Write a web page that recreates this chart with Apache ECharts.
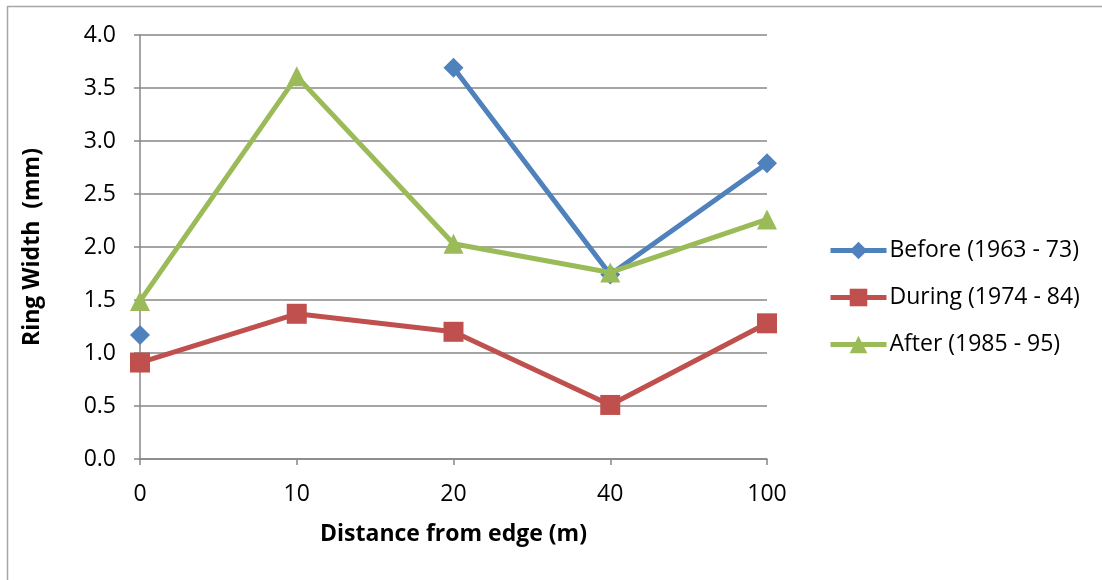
<!DOCTYPE html>
<html>
<head>
<meta charset="utf-8">
<script src="https://cdn.jsdelivr.net/npm/echarts@6/dist/echarts.min.js"></script>
<style>
  html, body { margin: 0; padding: 0; background: #fff; }
  #chart { width: 1102px; height: 580px; }
</style>
</head>
<body>
<div id="chart"></div>
<script>
  // distances from edge (m)
  var distances = ['0', '10', '20', '40', '100']
  // ring width (mm), null where no value
  var before = [1.17, null, 3.69, 1.74, 2.79]
  var during = [0.91, 1.37, 1.20, 0.51, 1.28]
  var after = [1.49, 3.61, 2.03, 1.76, 2.26]

  var font = '"Open Sans", sans-serif'
  var chart = echarts.init(document.getElementById('chart'))

  chart.setOption({
    backgroundColor: '#fff',
    animation: false,
    textStyle: { fontFamily: font },
    graphic: [{
      type: 'rect',
      shape: { x: 7.5, y: 6.5, width: 1200, height: 700 },
      style: { fill: 'none', stroke: '#a6a6a6', lineWidth: 1.5 },
      silent: true
    }],
    grid: { left: 140, right: 335, top: 35, bottom: 121 },
    legend: {
      orient: 'vertical',
      left: 823,
      top: 234,
      itemWidth: 56,
      itemHeight: 22,
      itemGap: 24,
      lineStyle: { width: 5 },
      textStyle: { fontSize: 23, color: '#000', fontFamily: font, padding: [0, 0, 0, -2] },
      data: ['Before (1963 - 73)', 'During (1974 - 84)', 'After (1985 - 95)']
    },
    xAxis: {
      type: 'category',
      boundaryGap: false,
      data: distances,
      name: 'Distance from edge (m)',
      nameLocation: 'middle',
      nameGap: 64,
      nameTextStyle: { fontSize: 23, fontWeight: 'bold', color: '#000', fontFamily: font },
      axisLine: { lineStyle: { color: '#878787', width: 1.5 } },
      axisTick: { show: true, alignWithLabel: true, length: 6, lineStyle: { color: '#878787', width: 1.5 } },
      axisLabel: { fontSize: 23, color: '#000', margin: 24, fontFamily: font },
      splitLine: { show: false }
    },
    yAxis: {
      type: 'value',
      min: 0,
      max: 4,
      interval: 0.5,
      name: 'Ring Width  (mm)',
      nameLocation: 'middle',
      nameGap: 96,
      nameRotate: 90,
      nameTextStyle: { fontSize: 23, fontWeight: 'bold', color: '#000', fontFamily: font },
      axisLine: { show: true, lineStyle: { color: '#878787', width: 1.5 } },
      axisTick: { show: true, length: 6, inside: false, lineStyle: { color: '#878787', width: 1.5 } },
      axisLabel: {
        fontSize: 23, color: '#000', margin: 24, fontFamily: font,
        formatter: function (v) { return v.toFixed(1) }
      },
      splitLine: { lineStyle: { color: '#878787', width: 1.5 } }
    },
    series: [
      {
        name: 'Before (1963 - 73)',
        type: 'line',
        data: before,
        connectNulls: false,
        symbol: 'diamond',
        symbolSize: 20,
        showAllSymbol: true,
        lineStyle: { color: '#4f81bd', width: 5 },
        itemStyle: { color: '#4f81bd' },
        z: 3
      },
      {
        name: 'During (1974 - 84)',
        type: 'line',
        data: during,
        symbol: 'rect',
        symbolSize: 20,
        showAllSymbol: true,
        lineStyle: { color: '#c0504d', width: 5 },
        itemStyle: { color: '#c0504d' },
        z: 4
      },
      {
        name: 'After (1985 - 95)',
        type: 'line',
        data: after,
        symbol: 'triangle',
        symbolSize: 20,
        showAllSymbol: true,
        lineStyle: { color: '#9bbb59', width: 5 },
        itemStyle: { color: '#9bbb59' },
        z: 5
      }
    ]
  })
</script>
</body>
</html>
